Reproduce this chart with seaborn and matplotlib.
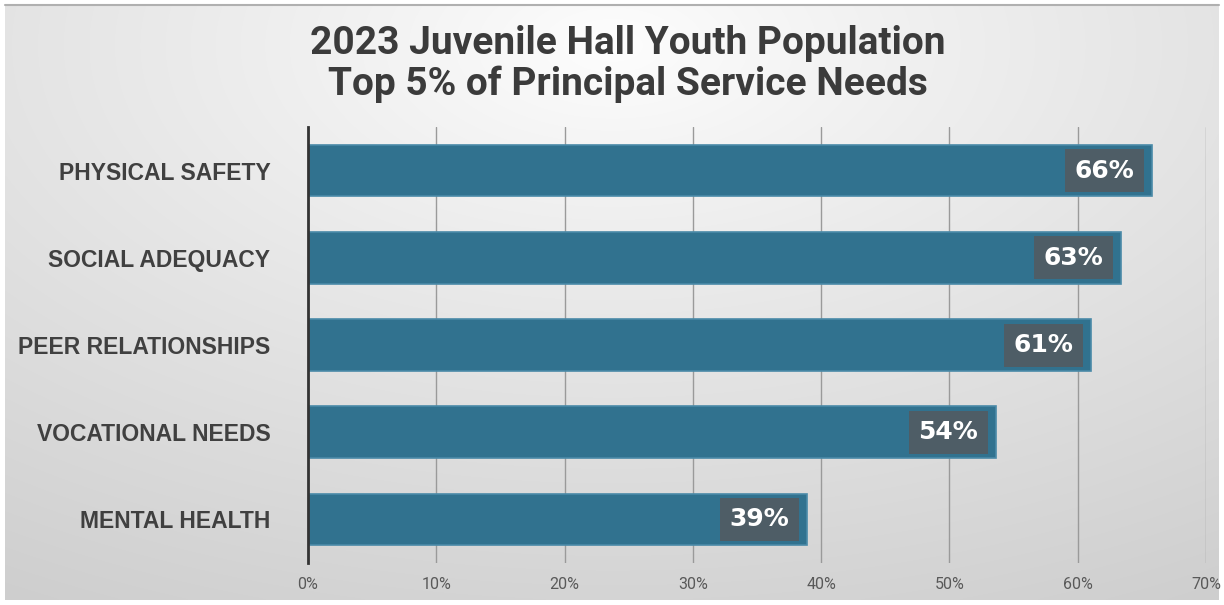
import numpy as np
import pandas as pd
import matplotlib
matplotlib.use("Agg")
import matplotlib.pyplot as plt
import seaborn as sns

categories = ["PHYSICAL SAFETY", "SOCIAL ADEQUACY", "PEER RELATIONSHIPS", "VOCATIONAL NEEDS", "MENTAL HEALTH"]
values = [65.8, 63.4, 61.0, 53.6, 38.9]
value_labels = ["66%", "63%", "61%", "54%", "39%"]
x_ticks = [0, 10, 20, 30, 40, 50, 60, 70]
x_tick_labels = ["0%", "10%", "20%", "30%", "40%", "50%", "60%", "70%"]
title_lines = ["2023 Juvenile Hall Youth Population", "Top 5% of Principal Service Needs"]

sns.set_theme(style="white")
plt.rcParams['font.family'] = ['Liberation Sans', 'DejaVu Sans']

W, H = 1224, 605
fig = plt.figure(figsize=(W / 100, H / 100), dpi=100)
fig.patch.set_facecolor("white")

# background gradient panel
bg = fig.add_axes([5 / W, 5 / H, (W - 10) / W, (H - 10) / H])
bg.set_axis_off()
yy, xx = np.mgrid[0:300, 0:600]
cx, cy = 300, 20
d = np.sqrt(((xx - cx) / 600) ** 2 + ((yy - cy) / 330) ** 2)
v = 0.995 - 0.19 * np.clip(d, 0, 1) ** 0.9
img = np.dstack([v, v, v])
bg.imshow(img, aspect="auto", extent=[0, 1, 0, 1], origin="upper", interpolation="bicubic")
bg.set_xlim(0, 1); bg.set_ylim(0, 1)
bg.plot([0, 1], [1, 1], color="#b0b0b0", lw=1.5, transform=bg.transAxes, clip_on=False)

ax = fig.add_axes([308 / W, 1 - 563 / H, (1206 - 308) / W, (563 - 127) / H])
ax.patch.set_alpha(0)

df = pd.DataFrame({"category": categories, "value": values})
sns.barplot(data=df, x="value", y="category", orient="h", color="#31728f",
            saturation=1, width=0.59, edgecolor="#4a8aa8", linewidth=1.2, ax=ax, zorder=3)

ax.set_xlim(0, 70)
ax.set_ylim(4.5, -0.5)
ax.set_xticks(x_ticks)
ax.set_xticklabels(x_tick_labels, family=['Roboto', 'DejaVu Sans'], fontsize=11.5, color="#595959")
ax.tick_params(axis="x", length=0, pad=10)
ax.tick_params(axis="y", length=0, pad=27)
for lab in ax.get_yticklabels():
    lab.set_fontsize(16.5)
    lab.set_fontweight("bold")
    lab.set_color("#404040")
ax.grid(axis="x", color="#9a9a9a", lw=1, zorder=0)
ax.grid(axis="y", visible=False)
for k in ["top", "right", "bottom"]:
    ax.spines[k].set_visible(False)
ax.spines["left"].set_color("#333333")
ax.spines["left"].set_linewidth(2)
ax.spines["left"].set_zorder(5)
ax.set_xlabel("")
ax.set_ylabel("")

for i, (val, lab) in enumerate(zip(values, value_labels)):
    ax.text(val - 3.7, i, lab, ha="center", va="center", color="white",
            fontsize=18, fontweight="bold", family=['DejaVu Sans'], zorder=6,
            bbox=dict(boxstyle="square,pad=0.38", fc="#4e5d66", ec="none"))

fig.text(0.513, 1 - 44 / H, title_lines[0], ha="center", va="center", fontsize=28,
         fontweight="bold", color="#3b3b3b", family=['Roboto', 'DejaVu Sans'])
fig.text(0.513, 1 - 84 / H, title_lines[1], ha="center", va="center", fontsize=28,
         fontweight="bold", color="#3b3b3b", family=['Roboto', 'DejaVu Sans'])

fig.savefig("out.png", dpi=100)
